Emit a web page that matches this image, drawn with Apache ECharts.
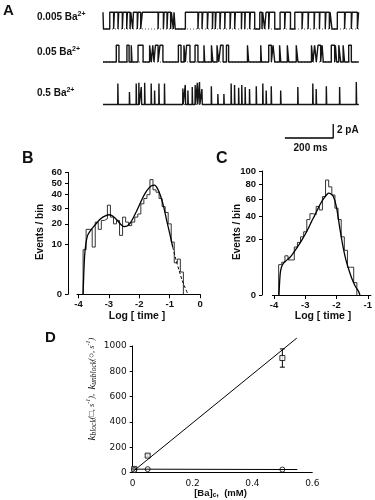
<!DOCTYPE html>
<html><head><meta charset="utf-8">
<script src="https://cdn.jsdelivr.net/npm/echarts@6/dist/echarts.min.js"></script>
<style>html,body{margin:0;padding:0;background:#fff}#c{width:375px;height:500px}</style>
</head><body><div id="c"></div>
<script>
// ================= DATA =================
// Panel A: single-channel traces (time in ms, current in pA)
const traceLabels = ['0.005', '0.05', '0.5'];
const traceSpan = [0, 1058];
const openAmp = 2.4;
// 0.005 mM: channel mostly open; closures [start, end]
const trace1Closures = [[2,28],[44,47],[62,65],[80,83],[98,101],[112,115],[123,126],[142,145],[156,163],[228,230],[250,253],[265,268],[280,283],[291,294],[299,341],[393,396],[410,413],[432,435],[453,455],[465,468],[484,487],[504,506],[526,529],[545,548],[573,575],[587,589],[607,610],[628,649],[658,661],[669,675],[686,689],[711,733],[752,755],[776,794],[824,827],[849,851],[874,876],[896,898],[920,923],[937,940],[948,970],[1000,1003],[1028,1031],[1053,1058]];
// 0.05 mM: openings [start, end]
const trace2Openings = [[55,66],[99,108],[117,120],[145,166],[193,200],[206,211],[217,228],[236,248],[312,323],[335,341],[346,360],[381,393],[418,421],[449,455],[472,479],[487,497],[511,520],[598,603],[653,656],[686,697],[704,711],[731,736],[763,769],[800,807],[863,869],[876,883],[890,901],[907,912],[945,959],[962,967],[976,984],[994,1000],[1017,1028]];
// 0.5 mM: brief openings [time, peak pA]
const trace3Spikes = [[62,3.0],[110,1.8],[138,3.0],[149,3.1],[159,2.5],[173,3.1],[200,3.0],[214,2.0],[232,3.0],[255,3.0],[331,2.3],[341,2.8],[352,2.0],[370,2.5],[382,2.8],[391,3.1],[400,3.2],[410,2.2],[449,2.6],[476,1.5],[501,1.5],[531,3.0],[545,2.8],[562,2.4],[575,2.8],[589,2.5],[607,2.2],[635,2.6],[662,3.0],[676,2.0],[697,2.6],[736,2.0],[807,2.5],[869,3.0],[883,2.2],[925,2.6],[980,2.5],[1049,3.2]];
const scaleBarMs = 200;
const scaleBarPa = 2;

// Panels B & C: dwell-time histograms (log10 time, events/bin on sqrt scale)
const binWidth = 0.1;
const histBStart = -3.85;
const histBCounts = [8,17,17,9,21,17,22,23,32,24,20,22,14,24,21,19,21,24,26,33,37,40,53,44,42,37,31,27,20,11,4,5,2];
const fitB = [[-3.85,0],[-3.8,6],[-3.75,11],[-3.7,14],[-3.6,16.5],[-3.5,18.5],[-3.4,20.5],[-3.3,22.5],[-3.2,24],[-3.1,25],[-3.0,25.5],[-2.9,25],[-2.8,23.5],[-2.7,21.5],[-2.6,19.5],[-2.5,18.5],[-2.4,18.8],[-2.3,20.5],[-2.2,23.5],[-2.1,27.5],[-2.0,32],[-1.9,37],[-1.8,41.5],[-1.7,45],[-1.6,47.5],[-1.5,48],[-1.4,45],[-1.3,39],[-1.2,31],[-1.1,22],[-1.0,15],[-0.9,9]];
const fitBTail = [[-0.9,9],[-0.8,5],[-0.7,2.5],[-0.6,0.9],[-0.5,0.2],[-0.4,0]];
const histCStart = -3.85;
const histCCounts = [6,7,10,8,8,15,18,22,26,37,43,42,51,47,63,86,76,65,49,37,22,13,5,5,1];
const fitC = [[-3.84,0],[-3.8,3],[-3.76,5],[-3.7,6.5],[-3.6,7.8],[-3.5,9],[-3.4,11],[-3.3,13.5],[-3.2,16.5],[-3.1,20],[-3.0,24],[-2.9,29],[-2.8,35],[-2.7,41],[-2.6,48],[-2.5,55],[-2.4,61],[-2.3,66],[-2.25,67.5],[-2.2,67],[-2.1,63],[-2.0,50],[-1.9,30],[-1.8,16],[-1.7,8],[-1.6,4],[-1.5,1.6],[-1.4,0.5],[-1.3,0.1],[-1.25,0]];
const yTicksB = [0,10,20,30,40,50,60];
const yTicksC = [0,20,40,60,80,100];
const xTicksB = [-4,-3,-2,-1,0];
const xTicksC = [-4,-3,-2,-1];

// Panel D: rates vs [Ba]
const baConc = [0.005, 0.05, 0.5];
const kBlock = [30, 135, 905];
const kBlockErr = [6, 10, 72];
const kUnblock = [22, 28, 25];
const blockFit = [[0, 8], [0.548, 1062]];
const unblockFit = [[0, 28], [0.55, 25]];

// ================= BUILD =================
function levelTrace(events, base, level) {
  const pts = [[traceSpan[0], base]];
  events.forEach(e => { pts.push([e[0], base], [e[0], level], [e[1], level], [e[1], base]); });
  pts.push([traceSpan[1], base]);
  return pts;
}
function spikeTrace(spikes) {
  const pts = [[traceSpan[0], 0]];
  spikes.forEach(s => { pts.push([s[0]-1, 0], [s[0]-0.5, s[1]], [s[0]+0.5, s[1]], [s[0]+1, 0]); });
  pts.push([traceSpan[1], 0]);
  return pts;
}
function histSteps(start, counts) {
  const pts = [[start, 0]];
  counts.forEach((c, i) => { const lo = start + i*binWidth, hi = lo + binWidth; pts.push([lo, Math.sqrt(c)], [hi, Math.sqrt(c)]); });
  pts.push([start + counts.length*binWidth, 0]);
  return pts;
}
const sq = arr => arr.map(p => [p[0], Math.sqrt(p[1])]);

const FONT = 'Liberation Sans';
const ink = '#111';
const lbl = {fontFamily: FONT, fontWeight: 'bold', fontSize: 9.5, color: ink};
const axLine = {show: true, onZero: false, lineStyle: {color: '#000', width: 1}};

const traceGrids = [4.5, 37.5, 80].map(top => ({left: 103, width: 258, top: top, height: 28}));
const grids = traceGrids.concat([
  {left: 103, width: 258, top: 124, height: 14},               // scale bar
  {left: 77, width: 123.1, top: 172.3, height: 122},           // B
  {left: 272.4, width: 100.8, top: 171, height: 124},          // C
  {left: 132.7, width: 179.6, top: 346, height: 126.7}         // D
]);
const hiddenX = i => ({gridIndex: i, type: 'value', min: 0, max: 1068, show: false});
const hiddenY = (i, mn, mx) => ({gridIndex: i, type: 'value', min: mn, max: mx, show: false});

const xAxes = [hiddenX(0), hiddenX(1), hiddenX(2), hiddenX(3),
  {gridIndex: 4, type: 'value', min: -4.05, max: 0, axisLine: axLine, splitLine: {show: false},
   axisTick: {customValues: xTicksB, length: 4, lineStyle: {color: '#000'}},
   axisLabel: Object.assign({customValues: xTicksB, margin: 5}, lbl)},
  {gridIndex: 5, type: 'value', min: -4.05, max: -0.9, axisLine: axLine, splitLine: {show: false},
   axisTick: {customValues: xTicksC, length: 4, lineStyle: {color: '#000'}},
   axisLabel: Object.assign({customValues: xTicksC, margin: 5}, lbl)},
  {gridIndex: 6, type: 'value', min: 0, max: 0.6, interval: 0.2, axisLine: axLine, splitLine: {show: false},
   axisTick: {show: false},
   axisLabel: {fontFamily: 'DejaVu Sans', fontSize: 9, color: ink, margin: 6, formatter: v => v === 0 ? '0' : v.toFixed(1)}}
];
const yAxes = [hiddenY(0, -0.5, 3.5), hiddenY(1, -0.5, 3.5), hiddenY(2, -0.5, 3.5), hiddenY(3, 0, scaleBarPa),
  {gridIndex: 4, type: 'value', min: 0, max: Math.sqrt(60), offset: 9, axisLine: axLine, splitLine: {show: false},
   axisTick: {customValues: yTicksB.map(Math.sqrt), length: 3, lineStyle: {color: '#000'}},
   axisLabel: Object.assign({customValues: yTicksB.map(Math.sqrt), margin: 6, formatter: v => String(Math.round(v*v))}, lbl)},
  {gridIndex: 5, type: 'value', min: 0, max: 10, offset: 10.4, axisLine: axLine, splitLine: {show: false},
   axisTick: {customValues: yTicksC.map(Math.sqrt), length: 3, lineStyle: {color: '#000'}},
   axisLabel: Object.assign({customValues: yTicksC.map(Math.sqrt), margin: 6, formatter: v => String(Math.round(v*v))}, lbl)},
  {gridIndex: 6, type: 'value', min: 0, max: 1000, interval: 200, axisLine: axLine, splitLine: {show: false},
   axisTick: {show: true, length: 3, lineStyle: {color: '#000'}},
   axisLabel: {fontFamily: 'DejaVu Sans', fontSize: 9, color: ink, margin: 6, formatter: v => String(v)}}
];

const line = (i, data, style, extra) => Object.assign({type: 'line', xAxisIndex: i, yAxisIndex: i, data: data,
  symbol: 'none', silent: true, clip: false, lineStyle: Object.assign({color: '#000', width: 1}, style)}, extra || {});

const sbStart = 753;
const tw = 1.4;
const series = [
  line(0, [[traceSpan[0], 0], [1068, 0]], {type: [1, 2], color: '#555'}),
  line(0, levelTrace(trace1Closures, openAmp, 0), {width: tw, color: '#141414'}),
  line(1, [[traceSpan[0], 0], [1068, 0]], {type: [1, 2], color: '#555'}),
  line(1, levelTrace(trace2Openings, 0, openAmp), {width: tw, color: '#141414'}),
  line(2, [[traceSpan[0], 0], [1068, 0]], {type: [1, 2], color: '#555'}),
  line(2, spikeTrace(trace3Spikes), {width: tw, color: '#141414'}),
  line(3, [[sbStart, 0], [sbStart + scaleBarMs, 0], [sbStart + scaleBarMs, scaleBarPa]], {width: 1.3}),
  line(4, histSteps(histBStart, histBCounts), {width: 1, color: '#333'}),
  line(4, sq(fitB), {width: 1.3}, {smooth: 0.3}),
  line(4, sq(fitBTail), {width: 1, type: [3, 2]}, {smooth: 0.3}),
  line(5, histSteps(histCStart, histCCounts), {width: 1, color: '#333'}),
  line(5, sq(fitC), {width: 1.3}, {smooth: 0.3}),
  line(6, blockFit, {width: 1}),
  line(6, unblockFit, {width: 1}),
  {type: 'custom', xAxisIndex: 6, yAxisIndex: 6, silent: true, clip: false,
   data: baConc.map((c, i) => [c, kBlock[i], kBlockErr[i]]),
   renderItem: (params, api) => {
     const x = api.value(0), y = api.value(1), e = api.value(2);
     const t = api.coord([x, y + e]), b = api.coord([x, y - e]);
     const st = {stroke: '#000', lineWidth: 1};
     return {type: 'group', children: [
       {type: 'line', shape: {x1: t[0], y1: t[1], x2: b[0], y2: b[1]}, style: st},
       {type: 'line', shape: {x1: t[0]-2.5, y1: t[1], x2: t[0]+2.5, y2: t[1]}, style: st},
       {type: 'line', shape: {x1: b[0]-2.5, y1: b[1], x2: b[0]+2.5, y2: b[1]}, style: st}]};
   }},
  {type: 'scatter', xAxisIndex: 6, yAxisIndex: 6, silent: true, clip: false, symbol: 'rect', symbolSize: 5,
   itemStyle: {color: '#fff', borderColor: '#000', borderWidth: 1},
   data: baConc.map((c, i) => [c, kBlock[i]])},
  {type: 'scatter', xAxisIndex: 6, yAxisIndex: 6, silent: true, clip: false, symbol: 'circle', symbolSize: 5,
   itemStyle: {color: '#fff', borderColor: '#000', borderWidth: 1},
   data: baConc.map((c, i) => [c, kUnblock[i]])}
];

function txt(x, y, text, o) {
  return Object.assign({type: 'text', x: x, y: y, silent: true,
    style: Object.assign({text: text, fill: ink, font: 'bold 10px ' + FONT, align: 'left', verticalAlign: 'middle'}, (o && o.style) || {})},
    (o && o.el) || {});
}
const supRich = {
  m: {fontFamily: FONT, fontWeight: 'bold', fontSize: 10, lineHeight: 12, verticalAlign: 'middle', color: ink},
  p: {fontFamily: FONT, fontWeight: 'bold', fontSize: 7, lineHeight: 7, verticalAlign: 'top', color: ink}
};
const graphics = [
  txt(3, 11, 'A', {style: {font: 'bold 15px ' + FONT}}),
  txt(22, 159, 'B', {style: {font: 'bold 16px ' + FONT}}),
  txt(216, 159, 'C', {style: {font: 'bold 16px ' + FONT}}),
  txt(45, 338, 'D', {style: {font: 'bold 15px ' + FONT}})
];
traceLabels.forEach((t, i) => {
  graphics.push(txt(37, [17, 52, 93][i], '{m|' + t + ' Ba}{p|2+}', {style: {rich: supRich}}));
});
graphics.push(
  txt(337, 130, scaleBarPa + ' pA'),
  txt(310.5, 148, scaleBarMs + ' ms', {style: {align: 'center'}}),
  txt(40, 232, 'Events / bin', {style: {align: 'center'}, el: {rotation: Math.PI/2}}),
  txt(237, 232, 'Events / bin', {style: {align: 'center'}, el: {rotation: Math.PI/2}}),
  txt(137, 316, 'Log [ time ]', {style: {align: 'center', font: 'bold 10.5px ' + FONT}}),
  txt(323, 316, 'Log [ time ]', {style: {align: 'center', font: 'bold 10.5px ' + FONT}}),
  txt(220.5, 493, '{m|[Ba]}{s|c}{m|,  (mM)}', {style: {align: 'center', rich: {
    m: {fontFamily: FONT, fontWeight: 'bold', fontSize: 9.5, lineHeight: 12, verticalAlign: 'middle', color: ink},
    s: {fontFamily: FONT, fontWeight: 'bold', fontSize: 6.5, lineHeight: 7, verticalAlign: 'bottom', color: ink}}}}),
  txt(92, 389, '{i|k}{s|block}{n|(□, s}{p|-1}{n|),  }{i|k}{s|unblock}{n|(○, s}{p|-1}{n|)}', {style: {align: 'center', rich: {
    i: {fontFamily: 'Liberation Serif', fontStyle: 'italic', fontSize: 11, lineHeight: 13, verticalAlign: 'middle', color: '#000'},
    s: {fontFamily: 'Liberation Serif', fontStyle: 'italic', fontSize: 7.5, lineHeight: 7, verticalAlign: 'bottom', color: '#000'},
    n: {fontFamily: 'Liberation Serif', fontStyle: 'italic', fontSize: 8.5, lineHeight: 13, verticalAlign: 'middle', color: '#000'},
    p: {fontFamily: 'Liberation Serif', fontStyle: 'italic', fontSize: 6, lineHeight: 6, verticalAlign: 'top', color: '#000'}}},
    el: {rotation: Math.PI/2}})
);

const chart = echarts.init(document.getElementById('c'), null, {width: 375, height: 500});
chart.setOption({
  animation: false,
  backgroundColor: '#fff',
  grid: grids,
  xAxis: xAxes,
  yAxis: yAxes,
  series: series,
  graphic: graphics
});
</script></body></html>
